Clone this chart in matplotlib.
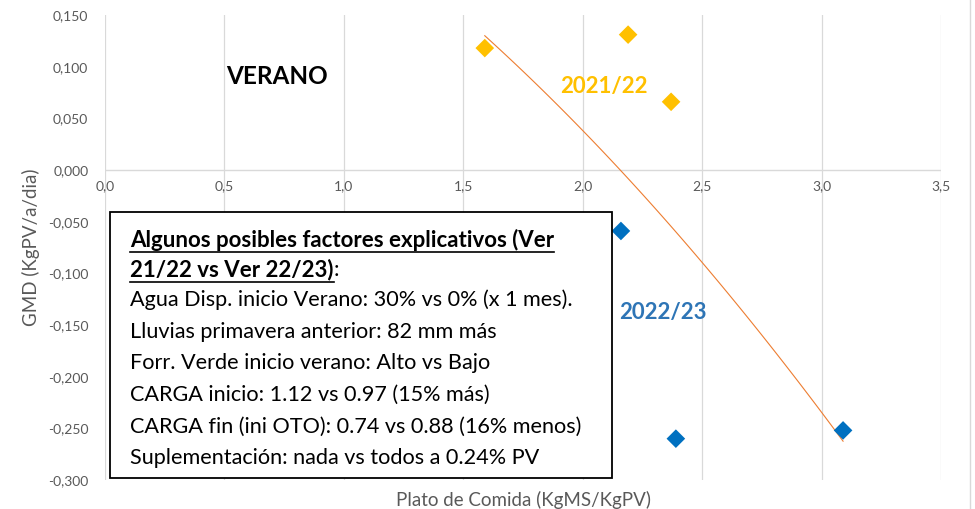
import numpy as np
import matplotlib
matplotlib.use("Agg")
import matplotlib.pyplot as plt
from matplotlib.lines import Line2D
from matplotlib.patches import Rectangle

plt.rcParams["font.family"] = ["Lato", "DejaVu Sans"]

# data
x_2122 = [1.59, 2.19, 2.37]
y_2122 = [0.118, 0.131, 0.066]
x_2223 = [2.16, 2.39, 3.09]
y_2223 = [-0.059, -0.260, -0.252]

x_ticks = [0.0, 0.5, 1.0, 1.5, 2.0, 2.5, 3.0, 3.5]
y_ticks = [0.150, 0.100, 0.050, 0.000, -0.050, -0.100, -0.150, -0.200, -0.250, -0.300]

box_title = ["Algunos posibles factores explicativos (Ver", "21/22 vs Ver 22/23)"]
box_lines = [
    "Agua Disp. inicio Verano: 30% vs 0% (x 1 mes).",
    "Lluvias primavera anterior: 82 mm más",
    "Forr. Verde inicio verano: Alto vs Bajo",
    "CARGA inicio: 1.12 vs 0.97 (15% más)",
    "CARGA fin (ini OTO): 0.74 vs 0.88 (16% menos)",
    "Suplementación: nada vs todos a 0.24% PV",
]

W, H = 975, 509
fig = plt.figure(figsize=(W / 100, H / 100), dpi=100)
ax = fig.add_axes([105 / W, 1 - 480 / H, 836 / W, 465 / H])

gray = "#595959"
grid = "#d9d9d9"

ax.set_xlim(0, 3.5)
ax.set_ylim(-0.3, 0.15)
for s in ax.spines.values():
    s.set_visible(False)
for xv in x_ticks:
    ax.axvline(xv, color=grid, lw=0.9, zorder=0)
ax.axhline(0, color=grid, lw=1.0, zorder=0)

ax.set_yticks(y_ticks)
ax.set_yticklabels([f"{v:.3f}".replace(".", ",") for v in y_ticks], color=gray, fontsize=10)
ax.tick_params(axis="y", length=0, pad=12)
ax.set_xticks([])
for xv in x_ticks:
    ax.text(xv, -0.010, f"{xv:.1f}".replace(".", ","), color=gray, fontsize=10,
            ha="center", va="top")

ax.set_ylabel("GMD (KgPV/a/dia)", color=gray, fontsize=13.5, labelpad=6)
ax.set_xlabel("Plato de Comida (KgMS/KgPV)", color=gray, fontsize=13.5, labelpad=8)

# polynomial trend over all points
xa = np.array(x_2122 + x_2223)
ya = np.array(y_2122 + y_2223)
coef = np.polyfit(xa, ya, 2)
xt = np.linspace(xa.min(), xa.max(), 100)
ax.plot(xt, np.polyval(coef, xt), color="#ED7D31", lw=0.8, zorder=2)

ax.scatter(x_2122, y_2122, marker="D", s=90, color="#FFC000", zorder=3, edgecolor="none")
ax.scatter(x_2223, y_2223, marker="D", s=90, color="#0070C0", zorder=3, edgecolor="none")

fig.text(277 / W, 1 - 76 / H, "VERANO", fontsize=17.5, fontweight="bold", ha="center", va="center")
fig.text(604 / W, 1 - 87 / H, "2021/22", fontsize=16, fontweight="bold", color="#FFC000",
         ha="center", va="center")
fig.text(663 / W, 1 - 313 / H, "2022/23", fontsize=16, fontweight="bold", color="#2E75B6",
         ha="center", va="center")

# explanatory box
fig.patches.append(Rectangle((110 / W, 1 - 478 / H), 502 / W, 266 / H, transform=fig.transFigure,
                             fill=True, facecolor="white", edgecolor="black", lw=1.3, zorder=5))
fig.canvas.draw()
renderer = fig.canvas.get_renderer()
x0 = 130 / W
y_pos = 240
fs = 15.6
for i, t in enumerate(box_title):
    txt = fig.text(x0, 1 - y_pos / H, t, fontsize=16, fontweight="bold", ha="left", va="center",
                   zorder=6)
    bb = txt.get_window_extent(renderer)
    uy = 1 - (y_pos + 12) / H
    fig.add_artist(Line2D([bb.x0 / W, bb.x1 / W], [uy, uy], transform=fig.transFigure,
                          color="black", lw=1.2, zorder=6))
    if i == 1:
        fig.text(bb.x1 / W, 1 - y_pos / H, ":", fontsize=fs, ha="left", va="center", zorder=6)
    y_pos += 30
for t in box_lines:
    fig.text(x0, 1 - y_pos / H, t, fontsize=fs, ha="left", va="center", zorder=6)
    y_pos += 31.7

fig.add_artist(Line2D([970 / W, 970 / W], [0, 1], transform=fig.transFigure, color=grid, lw=1.0))

fig.savefig("out.png", dpi=100)
